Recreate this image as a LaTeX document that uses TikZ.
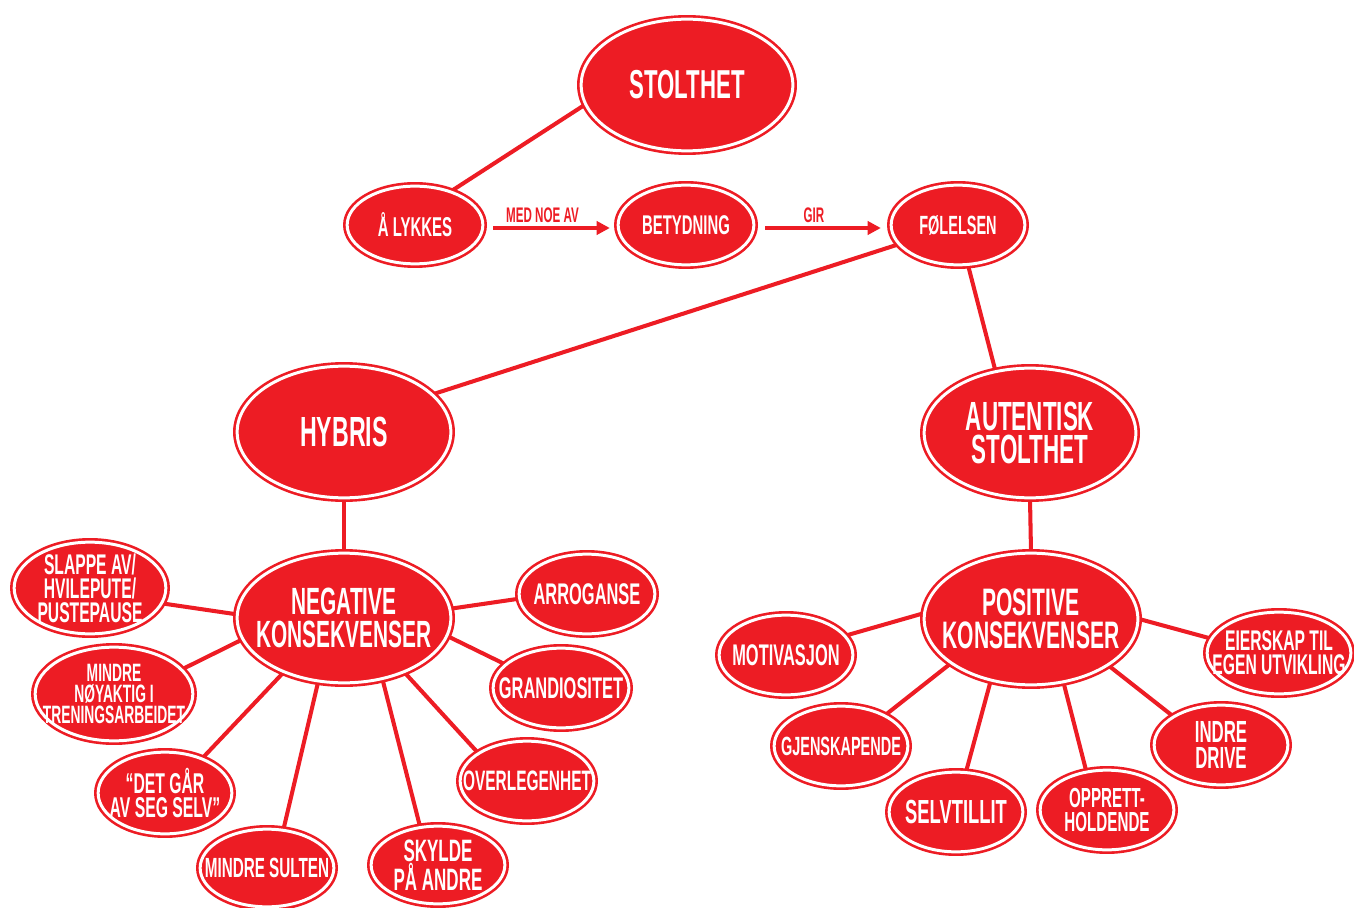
\documentclass[tikz,border=0pt]{standalone}
\usepackage{fontspec}
\newfontfamily\cond{Liberation Sans}[FakeStretch=0.55]
\usetikzlibrary{shapes.geometric,arrows.meta,backgrounds,calc}
\definecolor{brand}{HTML}{ED1C24}
\newcommand\fsz[2]{\fontsize{#1}{#2}\selectfont}
\tikzset{
  % the negative inner sep lets the given size alone fix each ellipse
  bub/.style={ellipse, draw=brand, fill=brand, double=white,
    double distance=1.7pt, line width=1.5pt, text=white, align=center,
    inner sep=-2cm},
  fs/.style 2 args={font=\cond\bfseries\fsz{#1}{#2}},
  rad/.style 2 args={minimum width={2*#1*0.02cm-0.166cm},
    minimum height={2*#2*0.02cm-0.166cm}},
  link/.style={draw=brand, line width=2.3pt},
  flow/.style={draw=brand, line width=2pt,
    -{Triangle[length=7.5pt,width=7.5pt]}},
  tag/.style={text=brand, font=\cond\bfseries\fsz{12}{12}, inner sep=2pt}
}
\begin{document}
\begin{tikzpicture}[x=0.02cm, y=-0.02cm]
\useasboundingbox (0,0) rectangle (1354,908);

% top chain
\node[bub, rad={110}{70}, fs={23}{23}] (stol) at (687,85) {STOLTHET};
\node[bub, rad={72}{43}, fs={15.5}{15.5}] (lyk) at (415,225) {Å LYKKES};
\node[bub, rad={72}{44}, fs={15.4}{15.4}] (bet) at (686,225) {BETYDNING};
\node[bub, rad={71}{44}, fs={15}{15}] (fol) at (958,225) {FØLELSEN};

% two branches
\node[bub, rad={111}{70}, fs={24}{24}] (hyb) at (344,432) {HYBRIS};
\node[bub, rad={110}{69}, fs={23.2}{19.3}] (aut) at (1030,433) {AUTENTISK\\STOLTHET};
\node[bub, rad={111}{69}, fs={21.6}{19}] (neg) at (344,618) {NEGATIVE\\KONSEKVENSER};
\node[bub, rad={111}{70}, fs={21.8}{19}] (pos) at (1031,619) {POSITIVE\\KONSEKVENSER};

% negative consequences
\node[bub, rad={80}{50}, fs={16.2}{13.6}] (slp) at (90,588) {SLAPPE AV/\\HVILEPUTE/\\PUSTEPAUSE};
\node[bub, rad={83}{51}, fs={14.3}{12.2}] (nyk) at (114,694) {MINDRE\\NØYAKTIG I\\TRENINGSARBEIDET};
\node[bub, rad={71}{45}, fs={16.3}{13.2}] (det) at (165,793) {“DET GÅR\\AV SEG SELV”};
\node[bub, rad={71}{43}, fs={15.8}{15}] (sul) at (267,868) {MINDRE SULTEN};
\node[bub, rad={71}{43}, fs={17.6}{15.6}] (sky) at (438,865) {SKYLDE\\PÅ ANDRE};
\node[bub, rad={71}{44}, fs={16}{16}] (ovr) at (527,781) {OVERLEGENHET};
\node[bub, rad={72}{44}, fs={17}{17}] (gra) at (561,688) {GRANDIOSITET};
\node[bub, rad={72}{44}, fs={17}{17}] (arr) at (587,594) {ARROGANSE};

% positive consequences
\node[bub, rad={71}{44}, fs={17}{17}] (mot) at (786,655) {MOTIVASJON};
\node[bub, rad={71}{44}, fs={15}{15}] (gje) at (841,746) {GJENSKAPENDE};
\node[bub, rad={71}{44}, fs={19}{19}] (sel) at (956,812) {SELVTILLIT};
\node[bub, rad={71}{44}, fs={15.7}{13.8}] (opp) at (1107,810) {OPPRETT-\\HOLDENDE};
\node[bub, rad={71}{44}, fs={17.4}{14.4}] (ind) at (1221,745) {INDRE\\DRIVE};
\node[bub, rad={76}{45}, fs={16.2}{13.8}] (eie) at (1279,653) {EIERSKAP TIL\\EGEN UTVIKLING};

% arrows with labels
\draw[flow] ($(lyk.east)+(9,3)$) -- node[tag, above, name=t1, xshift=-0.18cm] {MED NOE AV} ($(bet.west)+(-7,3)$);
\draw[flow] ($(bet.east)+(10,3)$) -- node[tag, above, name=t2, xshift=-0.18cm] {GIR} ($(fol.west)+(-9,3)$);

\begin{scope}[on background layer]
  \draw[link] (stol.191) -- (lyk.43);
  \draw[link] (fol.198) -- (hyb.23);
  \draw[link] (fol.284) -- (aut.119);
  \draw[link] (hyb.south) -- (neg.north);
  \draw[link] (aut.south) -- (pos.north);

  \draw[link] (neg.178) -- (slp.-12);
  \draw[link] (neg.192) -- (nyk.20);
  \draw[link] (neg.222) -- (det.43);
  \draw[link] (neg.248) -- (sul.67);
  \draw[link] (neg.302) -- (sky.115);
  \draw[link] (neg.318) -- (ovr.150);
  \draw[link] (neg.350) -- (gra.157);
  \draw[link] (neg.5) -- (arr.184);

  \draw[link] (pos.177) -- (mot.18);
  \draw[link] (pos.209) -- (gje.35);
  \draw[link] (pos.237) -- (sel.76);
  \draw[link] (pos.297) -- (opp.118);
  \draw[link] (pos.329) -- (ind.149);
  \draw[link] (pos.0) -- (eie.168);
\end{scope}
\end{tikzpicture}
\end{document}
